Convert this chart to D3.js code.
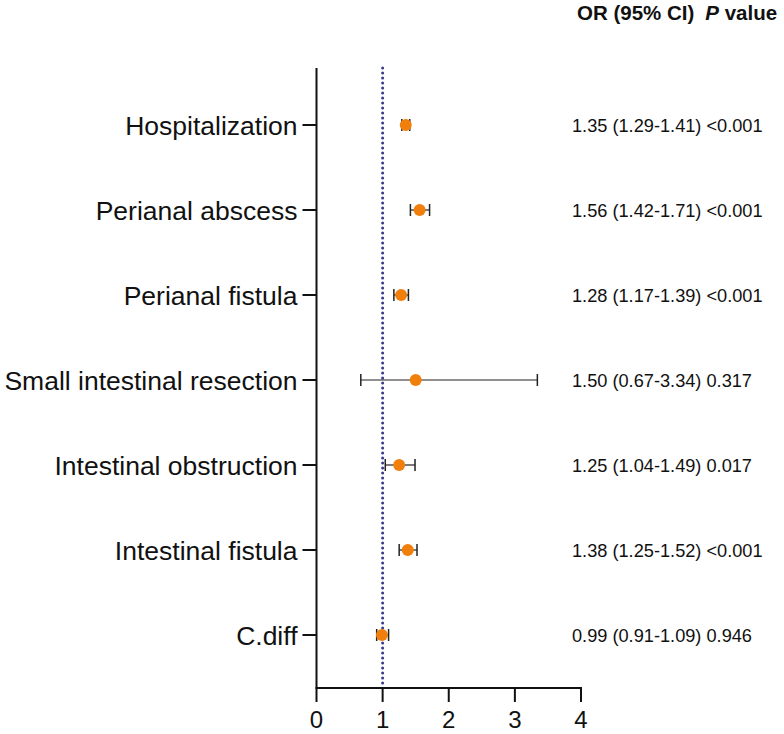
<!DOCTYPE html>
<html><head>
<meta charset="UTF-8">
<script src="https://d3js.org/d3.v7.min.js"></script>
<style>
body{margin:0;background:#fff;}
text{font-family:"Liberation Sans", Arial, sans-serif;fill:#111;}
</style>
</head>
<body>
<script>
// donnees
const categories = ["Hospitalization","Perianal abscess","Perianal fistula","Small intestinal resection","Intestinal obstruction","Intestinal fistula","C.diff"];
const or = [1.35, 1.56, 1.28, 1.50, 1.25, 1.38, 0.99];
const lower = [1.29, 1.42, 1.17, 0.67, 1.04, 1.25, 0.91];
const upper = [1.41, 1.71, 1.39, 3.34, 1.49, 1.52, 1.09];
const pvals = ["<0.001","<0.001","<0.001","0.317","0.017","<0.001","0.946"];
const xTicks = [0,1,2,3,4];

const W = 784, H = 734;
const svg = d3.select("body").append("svg").attr("width", W).attr("height", H);

const x = d3.scaleLinear().domain([0,4]).range([316.5, 581]);
const y = d3.scalePoint().domain(categories).range([125, 635]);
const yTop = 68, yBot = 688;

// axe vertical
const gy = svg.append("g").attr("transform", "translate(" + x(0) + ",0)");
gy.append("line").attr("y1", yTop).attr("y2", yBot).attr("stroke", "#111").attr("stroke-width", 2);
gy.selectAll(".tk").data(categories).enter().append("line")
  .attr("x1", -14).attr("x2", 0)
  .attr("y1", d => y(d)).attr("y2", d => y(d))
  .attr("stroke", "#111").attr("stroke-width", 2);
gy.selectAll(".lab").data(categories).enter().append("text")
  .attr("x", -19).attr("y", d => y(d)).attr("dy", "0.36em")
  .attr("text-anchor", "end").style("font-size", "26.5px")
  .text(d => d);

// axe horizontal
const gx = svg.append("g").attr("transform", "translate(0," + yBot + ")");
gx.append("line").attr("x1", x(0) - 1).attr("x2", x(4) + 1).attr("stroke", "#111").attr("stroke-width", 2);
gx.selectAll(".tk").data(xTicks).enter().append("line")
  .attr("x1", d => x(d)).attr("x2", d => x(d)).attr("y1", 0).attr("y2", 14)
  .attr("stroke", "#111").attr("stroke-width", 2);
gx.selectAll(".lab").data(xTicks).enter().append("text")
  .attr("x", d => x(d)).attr("y", 40).attr("text-anchor", "middle")
  .style("font-size", "24px").text(d => d);

// ligne de reference OR = 1
svg.append("line").attr("x1", x(1)).attr("x2", x(1)).attr("y1", yTop).attr("y2", yBot)
  .attr("stroke", "#3b3b8f").attr("stroke-width", 3)
  .attr("stroke-linecap", "round").attr("stroke-dasharray", "0 5");

// intervalles de confiance
const data = categories.map((c, i) => ({c: c, or: or[i], lo: lower[i], hi: upper[i], p: pvals[i]}));
const rows = svg.selectAll(".row").data(data).enter().append("g")
  .attr("transform", d => "translate(0," + y(d.c) + ")");
rows.append("line").attr("x1", d => x(d.lo)).attr("x2", d => x(d.hi))
  .attr("stroke", "#222").attr("stroke-width", 1.2);
rows.append("line").attr("x1", d => x(d.lo)).attr("x2", d => x(d.lo)).attr("y1", -6).attr("y2", 6)
  .attr("stroke", "#222").attr("stroke-width", 1.5);
rows.append("line").attr("x1", d => x(d.hi)).attr("x2", d => x(d.hi)).attr("y1", -6).attr("y2", 6)
  .attr("stroke", "#222").attr("stroke-width", 1.5);
rows.append("circle").attr("cx", d => x(d.or)).attr("r", 6).attr("fill", "#f07f0c");

// colonne de texte
rows.append("text").attr("x", 572).attr("dy", "0.36em").style("font-size", "18.2px")
  .text(d => d.or.toFixed(2) + " (" + d.lo.toFixed(2) + "-" + d.hi.toFixed(2) + ") " + d.p);

const head = svg.append("text").attr("x", 577).attr("y", 20)
  .style("font-size", "20.5px").style("font-weight", "bold");
head.append("tspan").text("OR (95% CI)");
head.append("tspan").attr("dx", 11).style("font-style", "italic").text("P");
head.append("tspan").text(" value");
</script>
</body>
</html>
